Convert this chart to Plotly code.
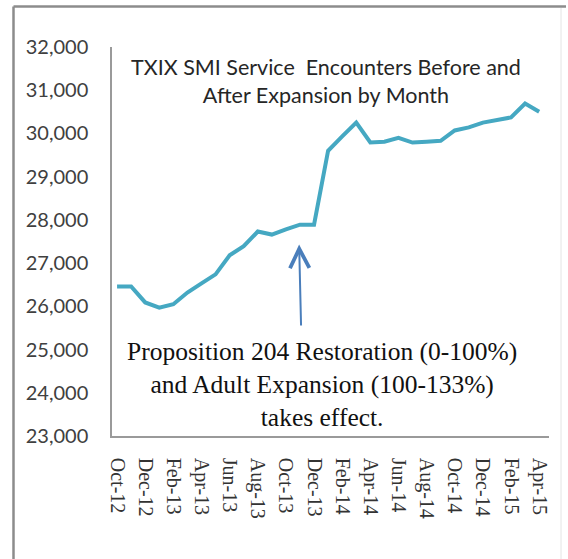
import plotly.graph_objects as go

# Monthly TXIX SMI service encounters, Oct 2012 - Apr 2015
months = [
    "Oct-12", "Nov-12", "Dec-12", "Jan-13", "Feb-13", "Mar-13", "Apr-13", "May-13",
    "Jun-13", "Jul-13", "Aug-13", "Sep-13", "Oct-13", "Nov-13", "Dec-13", "Jan-14",
    "Feb-14", "Mar-14", "Apr-14", "May-14", "Jun-14", "Jul-14", "Aug-14", "Sep-14",
    "Oct-14", "Nov-14", "Dec-14", "Jan-15", "Feb-15", "Mar-15", "Apr-15",
]
encounters = [
    26460, 26460, 26090, 25970, 26050, 26320, 26530, 26740,
    27180, 27390, 27730, 27660, 27780, 27890, 27890, 29600,
    29930, 30250, 29790, 29810, 29900, 29790, 29810, 29830,
    30070, 30140, 30250, 30300, 30370, 30690, 30500,
]
x_ticks = [
    "Oct-12", "Dec-12", "Feb-13", "Apr-13", "Jun-13", "Aug-13", "Oct-13", "Dec-13",
    "Feb-14", "Apr-14", "Jun-14", "Aug-14", "Oct-14", "Dec-14", "Feb-15", "Apr-15",
]
y_ticks = [23000, 24000, 25000, 26000, 27000, 28000, 29000, 30000, 31000, 32000]

title_lines = ["TXIX SMI Service  Encounters Before and", "After Expansion by Month"]
note_lines = [
    "Proposition 204 Restoration (0-100%)",
    "and Adult Expansion (100-133%)",
    "takes effect.",
]

fig = go.Figure()
fig.add_trace(go.Scatter(
    x=months, y=encounters, mode="lines",
    line=dict(color="#45A8C2", width=4),
    hoverinfo="x+y", showlegend=False,
))

fig.update_layout(
    width=568, height=559,
    margin=dict(l=112, r=19, t=47, b=123),
    paper_bgcolor="white", plot_bgcolor="white",
    xaxis=dict(
        type="category", categoryorder="array", categoryarray=months,
        range=[-0.36, 30.7],
        tickmode="array", tickvals=x_ticks, ticktext=x_ticks,
        tickangle=90, ticks="", ticklabelstandoff=16,
        tickfont=dict(family="Liberation Serif", size=20, color="#333333"),
        showgrid=False, zeroline=False,
        showline=True, linecolor="#9a9a9a", linewidth=1.5,
    ),
    yaxis=dict(
        range=[23000, 32000],
        tickmode="array", tickvals=y_ticks,
        ticktext=[f"{v:,}" for v in y_ticks],
        ticks="", ticklabelstandoff=18,
        tickfont=dict(family="Lato", size=20, color="#404040"),
        showgrid=False, zeroline=False,
        showline=True, linecolor="#9a9a9a", linewidth=1.5,
    ),
)

# Chart title inside the plot area
fig.add_annotation(
    xref="paper", yref="paper", x=(326 - 112) / 437, y=(436 - 81) / 389,
    text="<br>".join(title_lines), showarrow=False,
    xanchor="center", yanchor="middle", align="center",
    font=dict(family="Lato", size=21.5, color="#262626"),
)

# Policy note below the curve
fig.add_annotation(
    xref="paper", yref="paper", x=(322 - 112) / 437, y=(436 - 384) / 389,
    text="<br>".join(note_lines), showarrow=False,
    xanchor="center", yanchor="middle", align="center",
    font=dict(family="Liberation Serif", size=25.5, color="#111111"),
)

# Arrow pointing at the start of the expansion
fig.add_annotation(
    x=12.94, y=27430, xref="x", yref="y",
    ax=13.08, ay=25520, axref="x", ayref="y",
    text="", showarrow=True, arrowhead=5, arrowsize=1.9,
    arrowwidth=2, arrowcolor="#4A7EBB", standoff=0,
)

# Outer chart frame
W, H = 437, 389
def px_x(px):
    return (px - 112) / W
def px_y(py):
    return (436 - py) / H

fig.add_shape(type="line", xref="paper", yref="paper",
              x0=px_x(13.5), x1=px_x(13.5), y0=px_y(6.5), y1=px_y(570),
              line=dict(color="#8c8c8c", width=2.5))
fig.add_shape(type="line", xref="paper", yref="paper",
              x0=px_x(13.5), x1=px_x(566), y0=px_y(6.5), y1=px_y(6.5),
              line=dict(color="#8c8c8c", width=2.5))
fig.add_shape(type="line", xref="paper", yref="paper",
              x0=px_x(561), x1=px_x(561), y0=px_y(8), y1=px_y(570),
              line=dict(color="#e4e4e4", width=1))

fig.write_html("out.html")
